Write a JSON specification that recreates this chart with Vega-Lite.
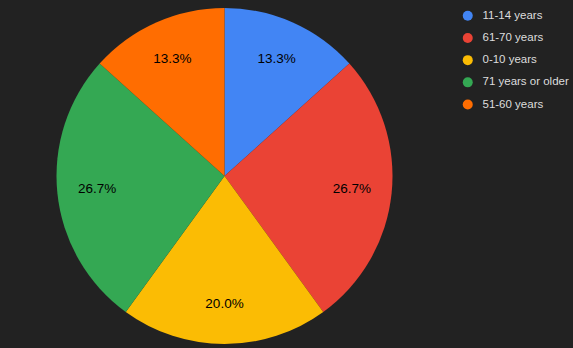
{
  "$schema": "https://vega.github.io/schema/vega-lite/v6.json",
  "width": 449,
  "height": 352,
  "autosize": "none",
  "padding": {"left": 0, "top": 0, "right": 124, "bottom": 0},
  "background": "#222222",
  "config": {"view": {"stroke": null}, "font": "Liberation Sans"},
  "data": {"values": [
    {"group": "11-14 years", "count": 2, "idx": 1, "label": "13.3%"},
    {"group": "61-70 years", "count": 4, "idx": 2, "label": "26.7%"},
    {"group": "0-10 years", "count": 3, "idx": 3, "label": "20.0%"},
    {"group": "71 years or older", "count": 4, "idx": 4, "label": "26.7%"},
    {"group": "51-60 years", "count": 2, "idx": 5, "label": "13.3%"}
  ]},
  "encoding": {
    "theta": {"field": "count", "type": "quantitative", "stack": true},
    "order": {"field": "idx", "type": "quantitative"}
  },
  "layer": [
    {
      "mark": {"type": "arc", "outerRadius": 168},
      "encoding": {
        "color": {
          "field": "group", "type": "nominal",
          "scale": {
            "domain": ["11-14 years", "61-70 years", "0-10 years", "71 years or older", "51-60 years"],
            "range": ["#4285F4", "#EA4335", "#FBBC04", "#34A853", "#FF6D01"]
          },
          "legend": {
            "title": null,
            "orient": "none",
            "legendX": 462,
            "legendY": 10,
            "symbolType": "circle",
            "symbolSize": 100,
            "symbolStrokeWidth": 0,
            "labelFontSize": 11.5,
            "labelColor": "#dddddd",
            "labelFont": "Liberation Sans",
            "rowPadding": 9.2,
            "labelOffset": 9,
            "labelLimit": 200
          }
        }
      }
    },
    {
      "mark": {"type": "text", "radius": 128, "fontSize": 13.5, "color": "#000000", "font": "Liberation Sans"},
      "encoding": {"text": {"field": "label", "type": "nominal"}}
    }
  ]
}
